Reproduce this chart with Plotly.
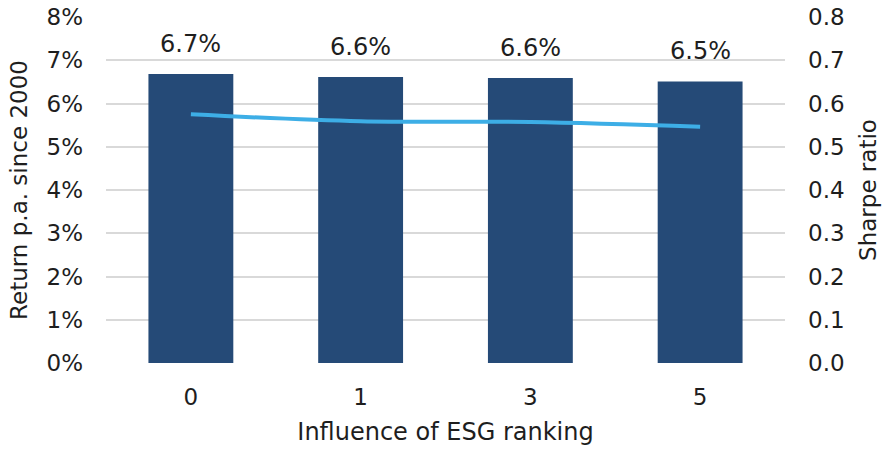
import plotly.graph_objects as go

# Data
esg_influence = ["0", "1", "3", "5"]
annual_return_pct = [6.68, 6.61, 6.59, 6.51]
sharpe_ratio = [0.575, 0.559, 0.557, 0.546]

return_ticks = [0, 1, 2, 3, 4, 5, 6, 7, 8]
return_tick_labels = [f"{v}%" for v in return_ticks]
sharpe_ticks = [0.0, 0.1, 0.2, 0.3, 0.4, 0.5, 0.6, 0.7, 0.8]
sharpe_tick_labels = [f"{v:.1f}" for v in sharpe_ticks]

FONT = "DejaVu Sans"
TEXT = "#1e1e1e"

fig = go.Figure()

fig.add_trace(go.Bar(
    x=esg_influence,
    y=annual_return_pct,
    marker=dict(color="#254A77", line=dict(width=0)),
    yaxis="y",
    showlegend=False,
    hoverinfo="skip",
))

fig.add_trace(go.Scatter(
    x=esg_influence,
    y=sharpe_ratio,
    mode="lines",
    line=dict(color="#3DAEE6", width=4, shape="spline"),
    yaxis="y2",
    showlegend=False,
))

# Value labels floating above each bar (category axis positions are indices)
for idx, val in enumerate(annual_return_pct):
    fig.add_annotation(
        x=idx, y=val, xref="x", yref="y",
        text=f"{val:.1f}%",
        showarrow=False,
        yanchor="bottom",
        yshift=14,
        font=dict(family=FONT, size=24, color=TEXT),
    )

fig.update_layout(
    width=886,
    height=450,
    margin=dict(l=106, r=101, t=17, b=87),
    paper_bgcolor="white",
    plot_bgcolor="white",
    bargap=0.5,
    font=dict(family=FONT, size=23, color=TEXT),
    xaxis=dict(
        type="category",
        automargin=False,
        showgrid=False,
        showline=False,
        ticks="",
        ticklabelstandoff=18,
        tickfont=dict(size=23),
        title=dict(text="Influence of ESG ranking", font=dict(size=24), standoff=14),
    ),
    yaxis=dict(
        range=[0, 8],
        automargin=False,
        tickvals=return_ticks,
        ticktext=return_tick_labels,
        showgrid=True,
        gridcolor="#D9D9D9",
        gridwidth=1.5,
        zeroline=False,
        showline=False,
        ticks="",
        ticklabelstandoff=22,
        tickfont=dict(size=23),
        title=dict(text="Return p.a. since 2000", font=dict(size=23), standoff=12),
    ),
    yaxis2=dict(
        range=[0, 0.8],
        automargin=False,
        tickvals=sharpe_ticks,
        ticktext=sharpe_tick_labels,
        overlaying="y",
        side="right",
        showgrid=False,
        zeroline=False,
        showline=False,
        ticks="",
        ticklabelstandoff=22,
        tickfont=dict(size=23),
        title=dict(text="Sharpe ratio", font=dict(size=23), standoff=16),
    ),
)

fig.write_html("out.html")
